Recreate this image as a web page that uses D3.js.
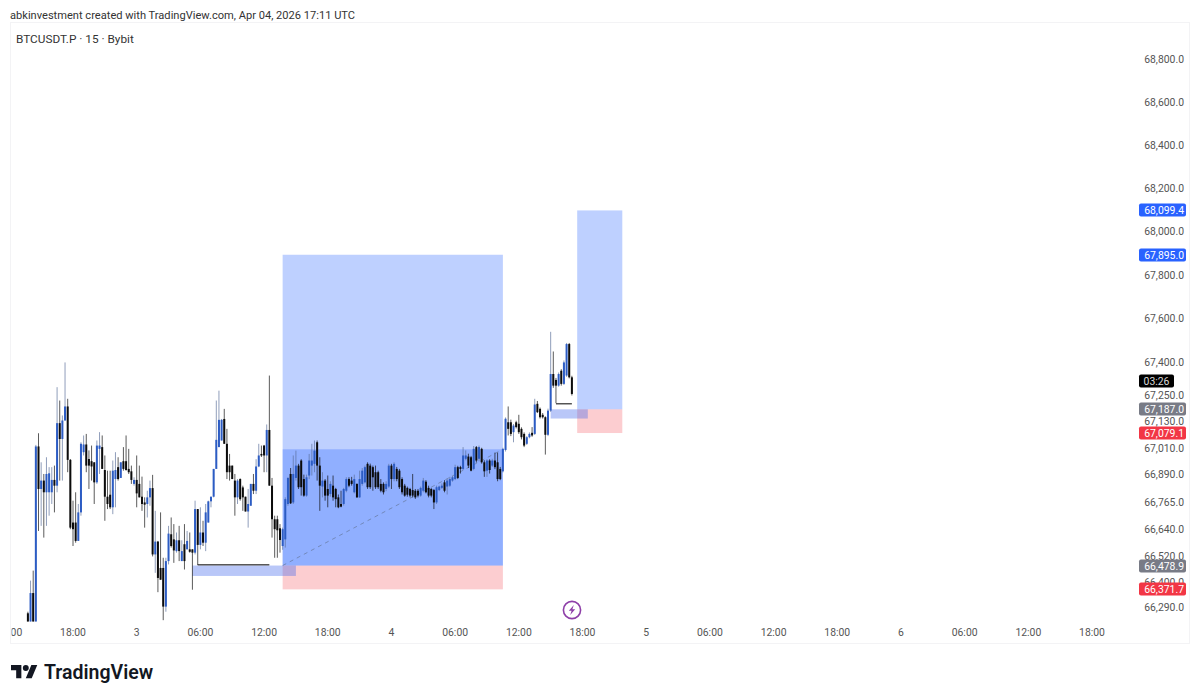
<!DOCTYPE html>
<html>
<head>
<meta charset="utf-8">
<script src="https://cdnjs.cloudflare.com/ajax/libs/d3/7.8.5/d3.min.js"></script>
<style>
html,body{margin:0;padding:0;background:#fff;overflow:hidden}
svg{display:block}
text{font-family:Roboto,sans-serif}
</style>
</head>
<body>
<svg id="chart" width="1199" height="699"></svg>
<script>
// 15 minute bars, the last one opens Apr 4 17:00 UTC
var lastBar = Date.UTC(2026,3,4,17,0);
var opens = [
66264,66218,66355,66200,67018,66825,66863,66810,66810,66810,
66866,66840,67124,67052,67136,67200,66957,66673,66673,66590,
66719,66992,67027,66961,66951,66946,66855,67007,67015,66911,
66790,66799,66742,66870,66924,66875,66951,66951,66916,66905,
66848,66866,66848,66790,66764,66757,66787,66829,66529,66587,
66468,66468,66294,66499,66620,66597,66544,66593,66499,66575,
66552,66552,66552,66537,66734,66572,66628,66582,66673,66769,
66790,66916,67015,67045,67143,67030,66931,66931,66863,66787,
66870,66832,66790,66723,66749,66848,66817,66927,66984,67022,
66977,67093,66840,66688,66688,66647,66567,
66597,66757,66893,66764,66875,66931,66954,66870,66795,66886,
66931,66939,67037,66931,66836,66863,66825,66802,66840,66825,
66787,66757,66757,66817,66870,66863,66810,66848,66787,66848,
66855,66939,66931,66924,66901,66901,66848,66848,66825,66836,
66931,66870,66916,66908,66870,66840,66830,66825,66820,66817,
66817,66795,66817,66858,66830,66825,66820,66764,66820,66830,
66855,66836,66840,66863,66870,66924,66924,66916,66962,66972,
66969,66916,67015,66962,67007,66946,66908,66954,66931,66954,
66946,66916,66905,67002,
67128,67128,67083,67128,67121,67098,67075,67030,67060,67080,
67075,67212,67189,67162,67151,67071,67181,67348,67321,67295,
67363,67303,67341,67485,67333
];
var highs = [
66271,66411,66456,67025,67078,66946,66893,66969,66924,66924,
66931,67288,67227,67159,67401,67235,66961,66772,66810,66757,
67037,67068,67075,67000,67022,66946,67045,67083,67068,66977,
66908,66908,66954,66992,66969,66946,67015,67068,67007,66931,
66878,66977,66931,66881,66787,66817,66863,66889,66726,66590,
66719,66514,66514,66658,66696,66666,66628,66658,66593,66666,
66635,66628,66552,66772,66734,66742,66681,66757,66772,66790,
66916,67227,67272,67143,67189,67098,66984,66931,66893,66870,
66873,66840,66790,66825,66848,66893,66960,67030,67022,67025,
67118,67341,66875,66704,66704,66666,66650,
66787,66878,66920,66977,66999,66939,66960,66890,66890,66984,
67030,67045,67045,66969,66901,66870,66886,66860,66886,66830,
66800,66817,66830,66878,66878,66880,66890,66850,66908,66920,
66931,66946,66940,66931,66931,66908,66870,66855,66860,66939,
66939,66946,66925,66916,66878,66848,66836,66830,66893,66825,
66825,66836,66875,66865,66840,66830,66825,66840,66840,66850,
66865,66870,66880,66885,66935,66930,66930,67015,67000,66985,
66975,67020,67020,67022,67012,66955,66960,66960,66962,66990,
66990,66925,67012,67150,
67200,67140,67120,67135,67162,67105,67082,67065,67082,67106,
67235,67225,67195,67170,67155,67190,67541,67451,67330,67355,
67370,67410,67490,67490,67340
];
var lows = [
66218,66190,66190,66190,66635,66658,66605,66658,66704,66757,
66719,66810,66863,66863,67136,66901,66643,66567,66582,66590,
66704,66977,66901,66825,66863,66757,66848,66893,66916,66681,
66734,66734,66711,66742,66863,66875,66908,66908,66893,66848,
66840,66742,66787,66726,66650,66696,66749,66520,66446,66359,
66415,66233,66271,66484,66560,66491,66537,66499,66499,66461,
66552,66537,66370,66529,66481,66552,66567,66544,66673,66742,
66787,66916,67015,67045,67030,66870,66863,66870,66704,66757,
66772,66726,66723,66650,66749,66802,66802,66924,66970,66901,
66901,66840,66605,66514,66514,66537,66550,
66560,66749,66757,66757,66863,66825,66795,66790,66790,66870,
66886,66901,66863,66726,66787,66772,66742,66790,66772,66742,
66738,66742,66750,66810,66833,66840,66805,66785,66785,66840,
66850,66825,66825,66817,66825,66825,66810,66800,66815,66830,
66825,66860,66860,66825,66800,66790,66790,66787,66787,66780,
66787,66790,66810,66805,66787,66787,66734,66757,66815,66825,
66810,66800,66835,66858,66865,66870,66895,66910,66955,66920,
66905,66910,66945,66950,66940,66880,66880,66895,66925,66915,
66860,66865,66900,66995,
67068,67065,67037,67100,67075,67050,67015,67025,67055,67062,
67070,67170,67145,67145,66981,67065,67175,67285,67215,67290,
67295,67298,67335,67328,67250
];
var closes = [
66218,66355,66200,67018,66825,66863,66810,66893,66896,66866,
66840,67124,67052,67136,67200,66957,66650,66643,66590,66719,
67030,67027,66931,66931,66927,66855,67022,67022,66916,66790,
66757,66742,66908,66911,66870,66946,66916,66911,66901,66866,
66866,66805,66787,66757,66754,66787,66829,66529,66587,66423,
66415,66294,66499,66623,66567,66547,66593,66544,66544,66499,
66590,66541,66537,66734,66572,66628,66582,66719,66769,66790,
66916,67048,67139,67139,67030,66901,66901,66870,66787,66863,
66779,66787,66723,66757,66848,66817,66927,66977,66977,66977,
67093,66840,66688,66643,66638,66594,66643,
66779,66875,66760,66893,66931,66833,66833,66795,66878,66954,
66954,66999,66931,66840,66863,66795,66795,66848,66787,66779,
66742,66745,66825,66870,66840,66848,66870,66787,66870,66908,
66924,66833,66833,66878,66833,66833,66817,66810,66848,66931,
66870,66939,66870,66833,66810,66795,66799,66795,66795,66787,
66795,66830,66863,66810,66795,66795,66764,66833,66836,66840,
66817,66863,66870,66878,66924,66875,66916,66977,66977,66931,
66908,67007,66954,67015,66946,66905,66954,66911,66954,66924,
66870,66870,67007,67144,
67098,67075,67113,67106,67083,67060,67022,67060,67075,67068,
67209,67174,67151,67151,67071,67181,67348,67295,67295,67348,
67303,67401,67485,67333,67257
];

var priceTicks = [68800,68600,68400,68200,68000,67800,67600,67400,67250,67130,67010,66890,66765,66640,66520,66400,66290];

// long position tools
var posStart = [Date.UTC(2026,3,3,13,45), Date.UTC(2026,3,4,17,30)];
var posEnd = [Date.UTC(2026,3,4,10,30), Date.UTC(2026,3,4,21,45)];
var posEntry = [66478.9, 67187.0];
var posTarget = [67895.0, 68099.4];
var posStop = [66371.7, 67079.1];
var posFilled = [67005, null];

// the small order blocks at the entries
var zoneStart = [Date.UTC(2026,3,3,5,15), Date.UTC(2026,3,4,15,0)];
var zoneEnd = [Date.UTC(2026,3,3,15,0), Date.UTC(2026,3,4,18,30)];
var zoneTop = [66478.9, 67187.0];
var zoneBottom = [66432, 67145];

// liquidity lines
var lineStart = [Date.UTC(2026,3,3,5,45), Date.UTC(2026,3,4,15,30)];
var lineEnd = [Date.UTC(2026,3,3,12,30), Date.UTC(2026,3,4,17,0)];
var linePrice = [66482, 67212];

var tagPrices = [68099.4,67895.0,67187.0,67079.1,66478.9,66371.7];
var tagColors = ['#2962ff','#2962ff','#787b86','#f23645','#787b86','#f23645'];

var countdownPrice = 67316;
var countdownText = '03:26';

var svg = d3.select('#chart');
var fmt = d3.format(',.1f');

var x = d3.scaleUtc()
    .domain([Date.UTC(2026,3,2,18,0), Date.UTC(2026,3,6,18,0)])
    .range([73,1092]);
var y = d3.scaleLog()
    .domain([66290,68800])
    .range([607.5,59.5]);

svg.append('text').attr('x',10).attr('y',19).attr('font-size',11.1).attr('fill','#333')
    .text('abkinvestment created with TradingView.com, Apr 04, 2026 17:11 UTC');
svg.append('rect').attr('x',10.5).attr('y',22.5).attr('width',1179).attr('height',621)
    .attr('fill','none').attr('stroke','#f3f3f5');
svg.append('text').attr('x',16).attr('y',43).attr('font-size',11.8).attr('fill','#333')
    .text('BTCUSDT.P \u00b7 15 \u00b7 Bybit');

var defs = svg.append('defs');
defs.append('clipPath').attr('id','pane').append('rect')
    .attr('x',10).attr('y',22).attr('width',1125).attr('height',599.5);
defs.append('clipPath').attr('id','timeClip').append('rect')
    .attr('x',11.5).attr('y',622).attr('width',1125).attr('height',21);

var pane = svg.append('g').attr('clip-path','url(#pane)');

function box(g,x0,x1,p0,p1,fill){
    g.append('rect')
        .attr('x',x(x0)).attr('width',x(x1)-x(x0))
        .attr('y',y(p0)).attr('height',y(p1)-y(p0))
        .attr('fill',fill);
}

posStart.forEach(function(d,i){
    box(pane,d,posEnd[i],posTarget[i],posEntry[i],'rgba(41,98,255,0.3)');
    box(pane,d,posEnd[i],posEntry[i],posStop[i],'rgba(242,54,69,0.25)');
    if(posFilled[i]){
        box(pane,d,posEnd[i],posFilled[i],posEntry[i],'rgba(41,98,255,0.3)');
        pane.append('line')
            .attr('x1',x(d)).attr('y1',y(posEntry[i]))
            .attr('x2',x(posEnd[i])).attr('y2',y(posFilled[i]))
            .attr('stroke','#6b7fa8').attr('stroke-width',0.8).attr('stroke-dasharray','4,4');
    }
});
zoneStart.forEach(function(d,i){
    box(pane,d,zoneEnd[i],zoneTop[i],zoneBottom[i],'rgba(60,100,235,0.36)');
});

// candles
var bars = opens.map(function(o,i){
    return {t:lastBar-(opens.length-1-i)*900000,o:o,h:highs[i],l:lows[i],c:closes[i]};
});
function barColor(d){ return d.c>=d.o ? '#2c5cc4' : '#0b0b0b'; }
function wickColor(d){ return d.c>=d.o ? '#5a6f9a' : '#0b0b0b'; }

pane.append('g').selectAll('line').data(bars).enter().append('line')
    .attr('x1',function(d){return x(d.t);})
    .attr('x2',function(d){return x(d.t);})
    .attr('y1',function(d){return y(d.h);})
    .attr('y2',function(d){return y(d.l);})
    .attr('stroke',wickColor).attr('stroke-width',0.9).attr('stroke-opacity',0.75);
pane.append('g').selectAll('rect').data(bars).enter().append('rect')
    .attr('x',function(d){return x(d.t)-1;})
    .attr('width',2)
    .attr('y',function(d){return y(Math.max(d.o,d.c));})
    .attr('height',function(d){return Math.max(1,y(Math.min(d.o,d.c))-y(Math.max(d.o,d.c)));})
    .attr('fill',barColor);

lineStart.forEach(function(d,i){
    pane.append('line')
        .attr('x1',x(d)).attr('x2',x(lineEnd[i]))
        .attr('y1',y(linePrice[i])).attr('y2',y(linePrice[i]))
        .attr('stroke','#000').attr('stroke-width',1);
});

// price axis
var yAxis = d3.axisRight(y).tickValues(priceTicks).tickFormat(fmt).tickSize(0);
var yG = svg.append('g').attr('transform','translate(1184,-0.7)').call(yAxis);
yG.select('.domain').remove();
yG.selectAll('text').attr('x',0).attr('dy','0.35em').attr('text-anchor','end')
    .attr('font-family','Roboto,sans-serif').attr('font-size',10.4).attr('fill','#555');

// time axis
var timeTicks = [];
for(var h=0;h<=17;h++){ timeTicks.push(new Date(Date.UTC(2026,3,2,12+h*6,0))); }
var xAxis = d3.axisBottom(x).tickValues(timeTicks).tickSize(0).tickFormat(function(d){
    return d.getUTCHours()===0 ? String(d.getUTCDate()) : d3.utcFormat('%H:%M')(d);
});
var xG = svg.append('g').attr('clip-path','url(#timeClip)').append('g')
    .attr('transform','translate(-0.5,628.5)').call(xAxis);
xG.select('.domain').remove();
xG.selectAll('text').attr('y',0).attr('dy','0.71em')
    .attr('font-family','Roboto,sans-serif').attr('font-size',10.4).attr('fill','#555');

// price tags
tagPrices.forEach(function(p,i){
    var py = Math.round(y(p));
    svg.append('rect').attr('x',1139).attr('y',py-6.5).attr('width',47).attr('height',13)
        .attr('rx',2).attr('fill',tagColors[i]);
    svg.append('text').attr('x',1184).attr('y',py).attr('dy','0.35em').attr('text-anchor','end')
        .attr('font-size',10.4).attr('fill','#fff').text(fmt(p));
});
var cy = Math.round(y(countdownPrice));
svg.append('rect').attr('x',1139).attr('y',cy-6.5).attr('width',35).attr('height',13)
    .attr('rx',2).attr('fill','#000');
svg.append('text').attr('x',1156.5).attr('y',cy).attr('dy','0.35em').attr('text-anchor','middle')
    .attr('font-size',10.4).attr('fill','#d8d8d8').text(countdownText);

// news marker
var flash = svg.append('g').attr('transform','translate(572,610)');
flash.append('circle').attr('r',8.6).attr('fill','#fff').attr('stroke','#8e3fa8').attr('stroke-width',1.6);
flash.append('path').attr('d','M1.8,-5 L-3.2,0.8 L-0.4,0.8 L-1.8,5 L3.2,-0.8 L0.4,-0.8 Z').attr('fill','#8e3fa8');

// logo
var logo = svg.append('g').attr('transform','translate(11,662) scale(0.74)').attr('fill','#131722');
logo.append('path').attr('d','M14 22H7V11H0V4h14v18zM28 22h-8l7.5-18h8L28 22z');
logo.append('circle').attr('cx',20).attr('cy',8).attr('r',4);
svg.append('text').attr('x',44).attr('y',679).attr('font-family','Inter,sans-serif')
    .attr('font-size',19.5).attr('font-weight',600).attr('fill','#131722').text('TradingView');
</script>
</body>
</html>
